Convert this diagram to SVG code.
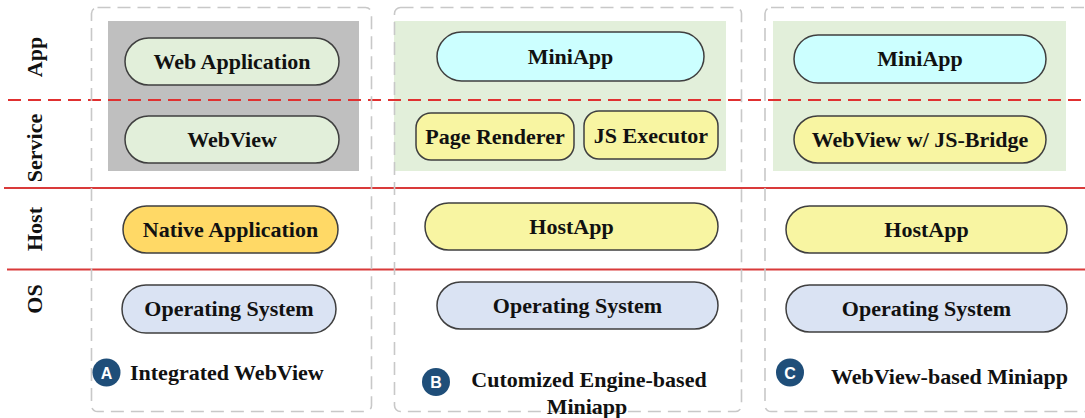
<svg xmlns="http://www.w3.org/2000/svg" width="1085" height="418" viewBox="0 0 1085 418">
<style>
.panel{fill:none;stroke:#C8C8C8;stroke-width:1.6;stroke-dasharray:13 7}
.pill{stroke:#3F3F3F;stroke-width:1.5}
.t{font-family:"Liberation Serif","Times New Roman",serif;font-weight:bold;font-size:22px;fill:#111;text-anchor:middle}
.cap{font-family:"Liberation Serif","Times New Roman",serif;font-weight:bold;font-size:22px;fill:#111}
.row{font-family:"Liberation Serif","Times New Roman",serif;font-weight:bold;font-size:22px;fill:#111;text-anchor:middle}
.badge{fill:#1F4E79}
.bl{font-family:"Liberation Sans",Arial,sans-serif;font-weight:bold;font-size:16px;fill:#fff;text-anchor:middle}
.sep{stroke:#D93A3A;stroke-width:2}
.sepd{stroke:#E03030;stroke-width:2;stroke-dasharray:13 7}
.green{fill:#E2EFDA}
.yellow{fill:#F8F5A2}
.cyan{fill:#CCFFFF}
.os{fill:#DAE3F3}
.gold{fill:#FFD966}
</style>

<!-- backgrounds -->
<g id="backgrounds">
<rect x="108" y="21" width="251" height="150" fill="#BFBFBF"/>
<rect x="394" y="21" width="332" height="150" class="green"/>
<rect x="773" y="21" width="293" height="150" class="green"/>
</g>

<!-- layer separators -->
<g id="connectors">
<line x1="8" y1="100" x2="1085" y2="100" class="sepd"/>
<line x1="4" y1="188" x2="1085" y2="188" class="sep"/>
<line x1="7" y1="269.5" x2="1085" y2="269.5" class="sep"/>
</g>

<!-- panel borders -->
<g id="panels">
<rect x="91.5" y="7.5" width="280" height="404" rx="6" class="panel"/>
<rect x="394.5" y="7.5" width="347" height="404" rx="6" class="panel"/>
<rect x="765" y="7.5" width="340" height="404" rx="6" class="panel"/>
</g>

<!-- row labels -->
<g id="row-labels">
<text class="row" transform="translate(42,57) rotate(-90)">App</text>
<text class="row" transform="translate(42,148) rotate(-90)">Service</text>
<text class="row" transform="translate(42,229) rotate(-90)">Host</text>
<text class="row" transform="translate(42,299) rotate(-90)">OS</text>
</g>

<!-- Panel A -->
<g id="a-web-application">
<rect x="125" y="38" width="214" height="47" rx="23.5" class="pill green"/>
<text x="232" y="69" class="t">Web Application</text>
</g>
<g id="a-webview">
<rect x="125" y="116" width="214" height="47" rx="23.5" class="pill green"/>
<text x="232" y="147" class="t">WebView</text>
</g>
<g id="a-native-application">
<rect x="123" y="206" width="215" height="47" rx="23.5" class="pill gold"/>
<text x="230.5" y="237" class="t">Native Application</text>
</g>
<g id="a-os">
<rect x="122" y="285" width="214" height="48" rx="24" class="pill os"/>
<text x="229" y="316" class="t">Operating System</text>
</g>
<g id="a-caption">
<circle cx="106.5" cy="372.5" r="14" class="badge"/>
<text x="106.5" y="378.5" class="bl">A</text>
<text x="130" y="379.5" class="cap">Integrated WebView</text>
</g>

<!-- Panel B -->
<g id="b-miniapp">
<rect x="437" y="32" width="267" height="49" rx="24.5" class="pill cyan"/>
<text x="570.5" y="64" class="t">MiniApp</text>
</g>
<g id="b-page-renderer">
<rect x="416" y="113" width="158" height="47" rx="15" class="pill yellow"/>
<text x="495" y="144" class="t">Page Renderer</text>
</g>
<g id="b-js-executor">
<rect x="584" y="111" width="134" height="48" rx="15" class="pill yellow"/>
<text x="651" y="142.5" class="t">JS Executor</text>
</g>
<g id="b-hostapp">
<rect x="425" y="203" width="293" height="47" rx="23.5" class="pill yellow"/>
<text x="571.5" y="234" class="t">HostApp</text>
</g>
<g id="b-os">
<rect x="437" y="282" width="281" height="47" rx="23.5" class="pill os"/>
<text x="577.5" y="312.5" class="t">Operating System</text>
</g>
<g id="b-caption">
<circle cx="436" cy="382" r="14" class="badge"/>
<text x="436" y="388" class="bl">B</text>
<text x="589" y="387" class="t">Cutomized Engine-based</text>
<text x="587" y="414" class="t">Miniapp</text>
</g>

<!-- Panel C -->
<g id="c-miniapp">
<rect x="794" y="35" width="252" height="48" rx="24" class="pill cyan"/>
<text x="920" y="65.5" class="t">MiniApp</text>
</g>
<g id="c-webview-jsbridge">
<rect x="794" y="116" width="252" height="47" rx="23.5" class="pill yellow"/>
<text x="920" y="146.5" class="t">WebView w/ JS-Bridge</text>
</g>
<g id="c-hostapp">
<rect x="786" y="206" width="281" height="47" rx="23.5" class="pill yellow"/>
<text x="926.5" y="237" class="t">HostApp</text>
</g>
<g id="c-os">
<rect x="786" y="285" width="281" height="47" rx="23.5" class="pill os"/>
<text x="926.5" y="315.5" class="t">Operating System</text>
</g>
<g id="c-caption">
<circle cx="790" cy="372.5" r="14" class="badge"/>
<text x="790" y="378.5" class="bl">C</text>
<text x="831" y="383.5" class="cap">WebView-based Miniapp</text>
</g>
</svg>
